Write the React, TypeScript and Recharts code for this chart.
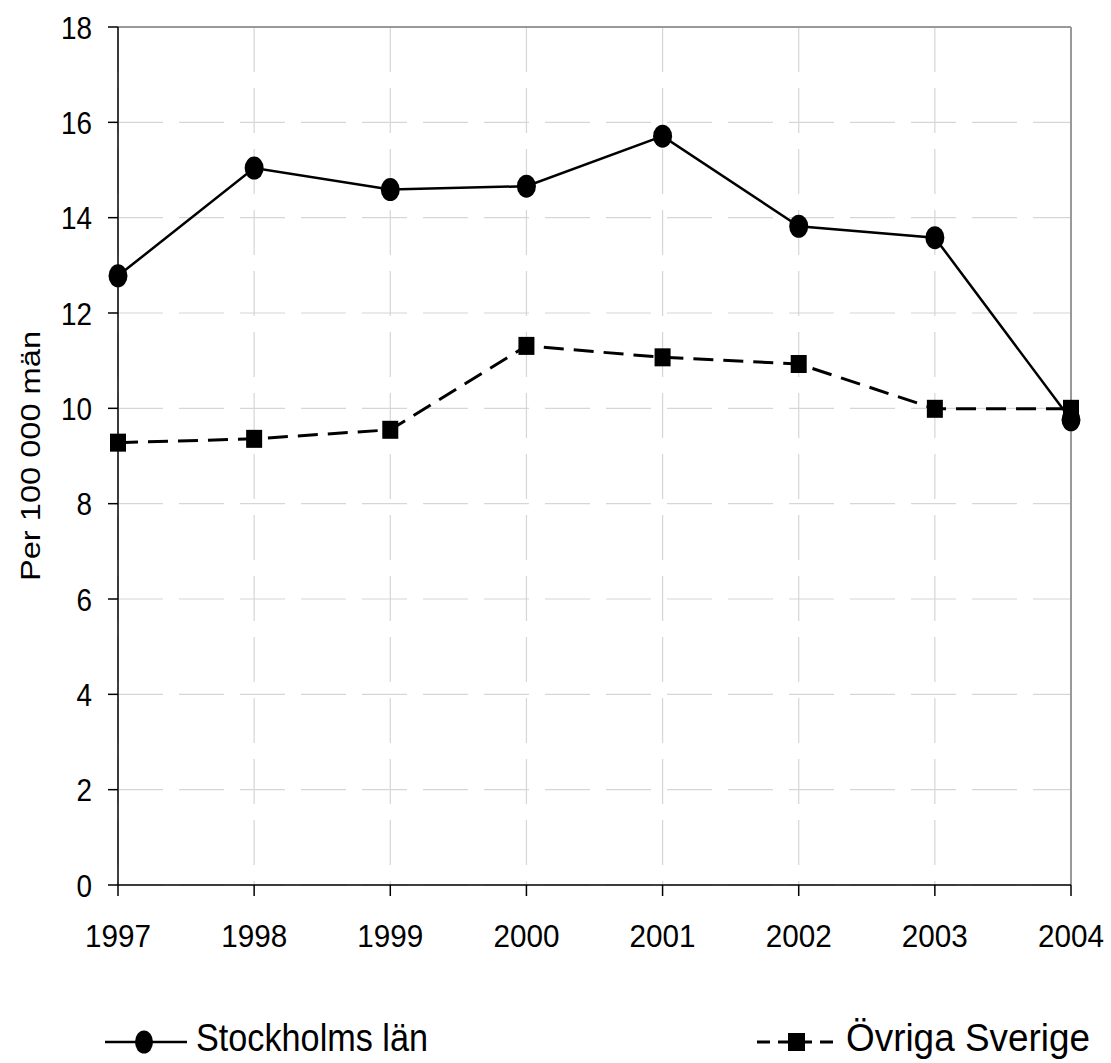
import React from "react"
import { LineChart, Line, XAxis, YAxis, CartesianGrid, ReferenceLine } from "recharts"

document.body.style.margin = "0"

const years = [1997, 1998, 1999, 2000, 2001, 2002, 2003, 2004]
const stockholm = [12.78, 15.04, 14.59, 14.66, 15.71, 13.82, 13.58, 9.76]
const ovriga = [9.28, 9.36, 9.55, 11.31, 11.07, 10.93, 9.99, 9.99]
const yTicks = [0, 2, 4, 6, 8, 10, 12, 14, 16, 18]
const seriesNames = ["Stockholms län", "Övriga Sverige"]
const yLabel = "Per 100 000 män"

const data = years.map((y, i) => ({ year: y, sthlm: stockholm[i], ovr: ovriga[i] }))

const FONT = "'Liberation Sans', Arial, sans-serif"

const Ellipse = (p: any) => {
  const { cx, cy } = p
  if (cx == null || cy == null) return null
  return <ellipse cx={cx} cy={cy} rx={9.5} ry={11.5} fill="#000" />
}

const Square = (p: any) => {
  const { cx, cy } = p
  if (cx == null || cy == null) return null
  return <rect x={cx - 8} y={cy - 9} width={16} height={18} fill="#000" />
}

// condensed-looking tick text, like the original
const XTick = (p: any) => {
  const { x, y, payload } = p
  const s = String(payload.value)
  return (
    <text x={x} y={y + 23} textAnchor="middle" fontFamily={FONT} fontSize={32} fill="#000"
      textLength={s.length * 16.5} lengthAdjust="spacingAndGlyphs">
      {s}
    </text>
  )
}

const YTick = (p: any) => {
  const { x, y, payload } = p
  const s = String(payload.value)
  return (
    <text x={x} y={y + 11.5} textAnchor="end" fontFamily={FONT} fontSize={32} fill="#000"
      textLength={s.length * 15.5} lengthAdjust="spacingAndGlyphs">
      {s}
    </text>
  )
}

const YLabel = (p: any) => {
  const vb = p.viewBox || {}
  const cy = (vb.y ?? 27) + (vb.height ?? 858) / 2
  const cx = 30
  return (
    <text
      x={cx}
      y={cy}
      transform={`rotate(-90 ${cx} ${cy})`}
      textAnchor="middle"
      dominantBaseline="central"
      fontFamily={FONT}
      fontSize={28}
      textLength={250}
      lengthAdjust="spacingAndGlyphs"
      fill="#000"
    >
      {yLabel}
    </text>
  )
}

const Legend = () => (
  <svg width={1111} height={60} style={{ position: "absolute", left: 0, top: 1003 }}>
    <g transform="translate(0,-1003)">
      <line x1={105} x2={187} y1={1042} y2={1042} stroke="#000" strokeWidth={2.5} />
      <ellipse cx={144} cy={1042} rx={9} ry={11.5} fill="#000" />
      <text x={196} y={1051} fontFamily={FONT} fontSize={38} textLength={232} lengthAdjust="spacingAndGlyphs">
        {seriesNames[0]}
      </text>
      <line x1={757} x2={836} y1={1042} y2={1042} stroke="#000" strokeWidth={3} strokeDasharray="13 8" />
      <rect x={788} y={1033} width={17} height={18} fill="#000" />
      <text x={846} y={1051} fontFamily={FONT} fontSize={38} textLength={244} lengthAdjust="spacingAndGlyphs">
        {seriesNames[1]}
      </text>
    </g>
  </svg>
)

export default function App() {
  return (
    <div style={{ position: "relative", width: 1111, height: 1063, background: "#fff" }}>
      <LineChart width={1111} height={1063} data={data} margin={{ top: 27, right: 40, bottom: 118, left: 0 }}>
        <CartesianGrid stroke="#d6d6d6" strokeDasharray="45 16" strokeWidth={1.2} />
        <XAxis
          dataKey="year"
          type="number"
          domain={[1997, 2004]}
          ticks={years}
          interval={0}
          height={60}
          tickSize={11}
          tickMargin={28}
          stroke="#000"
          strokeWidth={1.5}
          tick={<XTick />}
        />
        <YAxis
          width={118}
          domain={[0, 18]}
          ticks={yTicks}
          interval={0}
          tickSize={10}
          tickMargin={16}
          stroke="#000"
          strokeWidth={1.5}
          tick={<YTick />}
          label={<YLabel />}
        />
        <ReferenceLine y={18} stroke="#999" strokeWidth={2} />
        <ReferenceLine x={2004} stroke="#999" strokeWidth={2} />
        <Line
          dataKey="ovr"
          name={seriesNames[1]}
          type="linear"
          stroke="#000"
          strokeWidth={3}
          strokeDasharray="20 10"
          dot={<Square />}
          isAnimationActive={false}
        />
        <Line
          dataKey="sthlm"
          name={seriesNames[0]}
          type="linear"
          stroke="#000"
          strokeWidth={2.5}
          dot={<Ellipse />}
          isAnimationActive={false}
        />
      </LineChart>
      <Legend />
    </div>
  )
}
